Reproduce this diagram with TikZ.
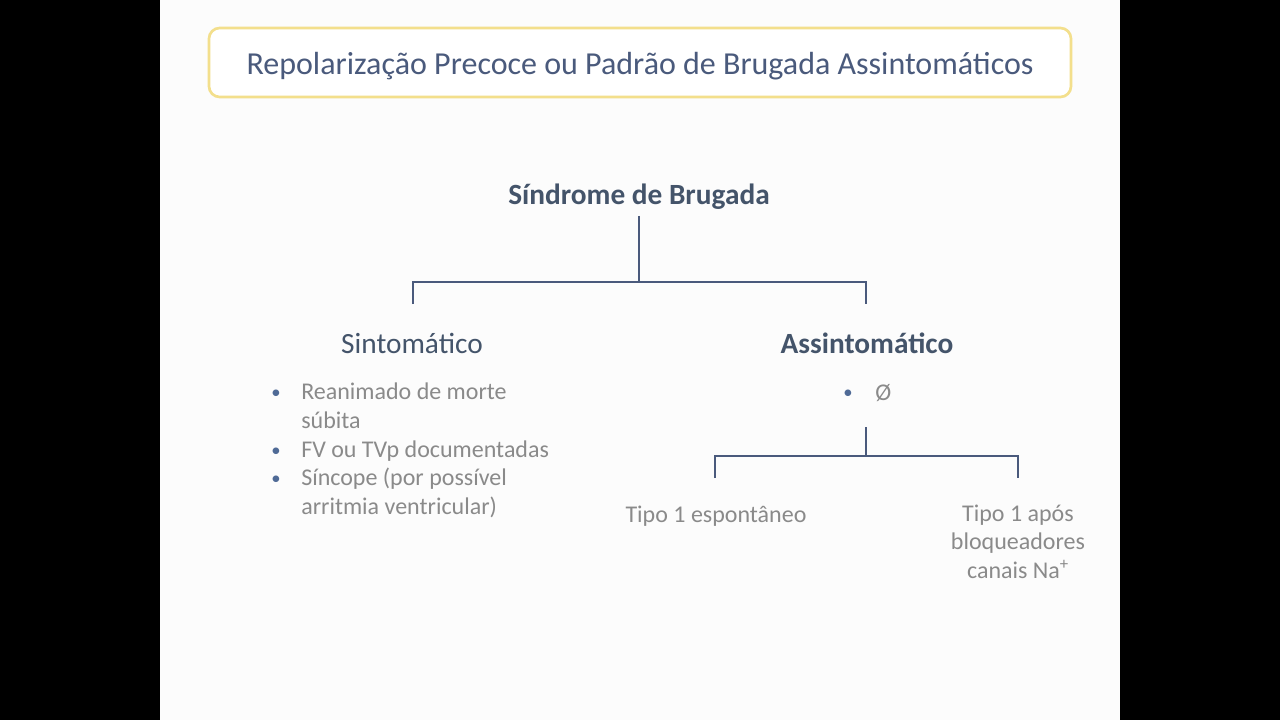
\documentclass[tikz,border=0pt]{standalone}
\usepackage{fontspec}
\setmainfont{Carlito}
\definecolor{slidebg}{HTML}{FCFCFC}
\definecolor{titleborder}{HTML}{F3DF8C}
\definecolor{darkblue}{HTML}{4A5A7C}
\definecolor{headblue}{HTML}{44546A}
\definecolor{greytext}{HTML}{8A8A8A}
\definecolor{bulletblue}{HTML}{4F6A96}
\definecolor{linecol}{HTML}{4A5A7C}
\tikzset{
  titlebox/.style={draw=titleborder, line width=2pt, rounded corners=8pt, fill=white,
    minimum width=646.5pt, minimum height=51.75pt, inner sep=0pt,
    text height=18.75pt, text depth=0pt,
    font=\fontsize{24}{28}\selectfont, text=darkblue},
  headbold/.style={anchor=base, inner sep=0pt, font=\fontsize{22}{26}\selectfont\bfseries, text=headblue},
  headplain/.style={anchor=base, inner sep=0pt, font=\fontsize{22}{26}\selectfont, text=headblue},
  itemtext/.style={anchor=base west, inner sep=0pt, font=\fontsize{18}{21.5}\selectfont, text=greytext, align=left},
  bulletmark/.style={anchor=base, inner sep=0pt, font=\fontsize{14}{18}\selectfont, text=bulletblue},
  leaftext/.style={anchor=base, inner sep=0pt, font=\fontsize{18}{21.25}\selectfont, text=greytext, align=center},
  conn/.style={draw=linecol, line width=1.1pt}
}
\begin{document}
\begin{tikzpicture}[x=0.75pt,y=-0.75pt]
\fill[black] (0,0) rectangle (1280,720);
\fill[slidebg] (160,0) rectangle (1120,720);
\useasboundingbox (0,0) rectangle (1280,720);

\node[titlebox] (title) at (640,62.5) {Repolarização Precoce ou Padrão de Brugada Assintomáticos};

\node[headbold] (sb) at (639,204.5) {Síndrome de Brugada};
\node[headplain] (sint) at (412,353.5) {Sintomático};
\node[headbold] (assint) at (867,353.5) {Assintomático};

% left bullets
\node[bulletmark] (b1) at (276,398) {•};
\node[bulletmark] (b2) at (276,456) {•};
\node[bulletmark] (b3) at (276,484) {•};
\node[itemtext] (i1) at (301,428) {Reanimado de morte\\súbita};
\node[itemtext] (i2) at (301,457) {FV ou TVp documentadas};
\node[itemtext] (i3) at (301,514) {Síncope (por possível\\arritmia ventricular)};

% right bullet
\node[bulletmark] (b4) at (848,398) {•};
\node[itemtext] (empty) at (875,400) {Ø};

% leaves
\node[leaftext] (tipo1) at (716,522) {Tipo 1 espontâneo};
\node[leaftext] (tipo2) at (1018,578) {Tipo 1 após\\bloqueadores\\canais Na\textsuperscript{+}};

% connectors
\coordinate (sbdown) at (639,216);
\coordinate (j1) at (639,282);
\coordinate (l1) at (413,282);
\coordinate (r1) at (866,282);
\coordinate (l1e) at (413,304);
\coordinate (r1e) at (866,304);
\draw[conn] (sbdown) -- (j1);
\draw[conn] (l1e) -- (l1) -- (r1) -- (r1e);

\coordinate (asdown) at (866,427);
\coordinate (j2) at (866,456);
\coordinate (l2) at (715,456);
\coordinate (r2) at (1018,456);
\coordinate (l2e) at (715,478);
\coordinate (r2e) at (1018,478);
\draw[conn] (asdown) -- (j2);
\draw[conn] (l2e) -- (l2) -- (r2) -- (r2e);
\end{tikzpicture}
\end{document}
